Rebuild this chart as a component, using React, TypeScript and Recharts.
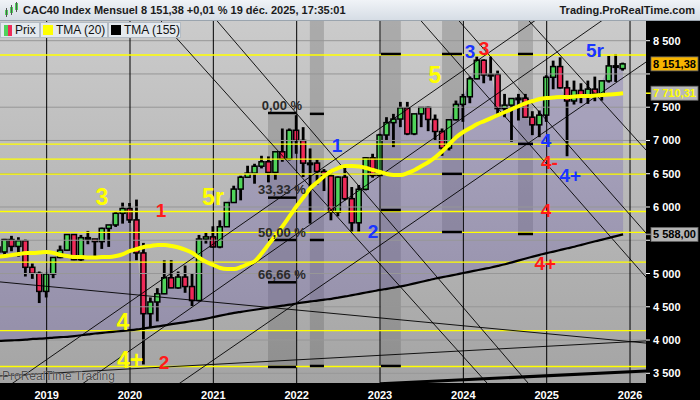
import React from 'react'
import {
  ComposedChart, Bar, Line, Area, XAxis, YAxis, CartesianGrid,
  ReferenceLine, ReferenceArea, ReferenceDot,
} from 'recharts'

// Mensuel CAC40, juin 2018 -> déc. 2025 (index 0 = janv. 2019)
const FIRST_MONTH = -7
const OPENS = [
  5398, 5324, 5511, 5407, 5493, 5093, 5003,
  4731, 4993, 5241, 5351, 5586, 5208, 5539, 5519, 5480, 5678, 5730, 5905,
  5978, 5806, 5309, 4396, 4572, 4695, 4936, 4784, 4947, 4804, 4594, 5518,
  5551, 5399, 5703, 6067, 6269, 6447, 6508, 6613, 6680, 6520, 6830, 6721,
  7153, 7000, 6659, 6660, 6534, 6469, 5923, 6449, 6125, 5762, 6266, 6739,
  6474, 7082, 7268, 7322, 7491, 7099, 7400, 7497, 7316, 7135, 6886, 7311,
  7543, 7657, 7927, 8206, 7985, 7993, 7479, 7531, 7631, 7636, 7350, 7235,
  7381, 7950, 8111, 7791, 7594, 7752, 7666, 7772, 7704, 7896, 8121, 8080,
]
const HIGHS = [
  5450, 5520, 5566, 5545, 5510, 5150, 5030,
  5010, 5241, 5420, 5592, 5590, 5580, 5640, 5520, 5690, 5730, 5940, 6065,
  6060, 6111, 5460, 4640, 4780, 5198, 5200, 5030, 5120, 5000, 5580, 5620,
  5710, 5800, 6070, 6320, 6470, 6620, 6650, 6770, 6760, 6830, 7180, 7180,
  7380, 7200, 6880, 6710, 6570, 6560, 6460, 6600, 6300, 6330, 6750, 6800,
  7100, 7350, 7400, 7580, 7580, 7400, 7500, 7510, 7390, 7180, 7310, 7600,
  7700, 7960, 8260, 8220, 8260, 8050, 7700, 7620, 7700, 7700, 7440, 7450,
  7980, 8200, 8250, 7900, 7900, 7860, 7900, 7960, 7900, 8270, 8300, 8170,
]
const LOWS = [
  5250, 5270, 5334, 5253, 4955, 4920, 4556,
  4640, 4930, 5230, 5340, 5200, 5190, 5440, 5230, 5370, 5400, 5700, 5750,
  5760, 5200, 3632, 4180, 4280, 4690, 4780, 4770, 4710, 4510, 4580, 5450,
  5390, 5380, 5700, 6060, 6100, 6440, 6350, 6580, 6370, 6410, 6680, 6700,
  6800, 6450, 5750, 6330, 6240, 5800, 5860, 6100, 5630, 5630, 6250, 6440,
  6470, 7000, 6900, 7200, 7080, 7080, 7200, 7140, 7000, 6770, 6850, 7300,
  7280, 7560, 7920, 7860, 7900, 7400, 7350, 6980, 7300, 7350, 7080, 7050,
  7280, 7770, 7780, 6763, 7540, 7560, 7550, 7590, 7600, 7870, 7880, 8050,
]
const CLOSES = [
  5324, 5511, 5407, 5493, 5093, 5003, 4731,
  4993, 5241, 5351, 5586, 5208, 5539, 5519, 5480, 5678, 5730, 5905, 5978,
  5806, 5309, 4396, 4572, 4695, 4936, 4784, 4947, 4804, 4594, 5518, 5551,
  5399, 5703, 6067, 6269, 6447, 6508, 6613, 6680, 6520, 6830, 6721, 7153,
  7000, 6659, 6660, 6534, 6469, 5923, 6449, 6125, 5762, 6266, 6739, 6474,
  7082, 7268, 7322, 7491, 7099, 7400, 7497, 7316, 7135, 6886, 7311, 7543,
  7657, 7927, 8206, 7985, 7993, 7479, 7531, 7631, 7636, 7350, 7235, 7381,
  7950, 8111, 7791, 7594, 7752, 7666, 7772, 7704, 7896, 8121, 8122, 8151,
]
const TMA20 = [
  5255, 5263, 5278, 5293, 5308, 5308, 5316,
  5324, 5308, 5278, 5263, 5248, 5248, 5240, 5240, 5248, 5248, 5263, 5293,
  5339, 5369, 5399, 5414, 5429, 5429, 5414, 5391, 5354, 5308, 5233, 5173,
  5128, 5083, 5068, 5068, 5098, 5143, 5188, 5308, 5444, 5579, 5715, 5865,
  6015, 6150, 6286, 6376, 6466, 6541, 6586, 6616, 6616, 6609, 6586, 6556,
  6526, 6496, 6481, 6481, 6511, 6556, 6616, 6677, 6752, 6842, 6947, 7052,
  7127, 7187, 7247, 7292, 7337, 7383, 7428, 7473, 7518, 7563, 7593, 7623,
  7638, 7646, 7654, 7654, 7661, 7669, 7669, 7676, 7684, 7691, 7699, 7710,
]
// TMA (155), courbe noire
const TMA155 = [
  3985, 3990, 3995, 4000, 4007, 4016, 4020,
  4028, 4037, 4044, 4048, 4060, 4072, 4085, 4098, 4108, 4118, 4128, 4138,
  4148, 4160, 4175, 4190, 4205, 4220, 4238, 4255, 4270, 4287, 4302, 4322,
  4345, 4367, 4388, 4408, 4424, 4440, 4455, 4471, 4486, 4501, 4516, 4531,
  4549, 4565, 4580, 4593, 4608, 4620, 4637, 4655, 4675, 4694, 4714, 4733,
  4753, 4770, 4788, 4806, 4828, 4852, 4876, 4900, 4925, 4945, 4965, 4985,
  5007, 5028, 5049, 5070, 5091, 5115, 5140, 5168, 5198, 5226, 5253, 5280,
  5307, 5330, 5355, 5380, 5403, 5430, 5458, 5485, 5510, 5535, 5562, 5588,
]

const Y_TICKS = [3500, 4000, 4500, 5000, 5500, 6000, 6500, 7000, 7500, 8000, 8500]
const YEAR_TICKS = [0, 12, 24, 36, 48, 60, 72, 84]
const SUPPORTS = [8285, 6945, 6720, 6494, 5932, 5617, 5170, 4142, 3602]

// Fibonacci 0 % -> 100 %
const FIB_TOP = 7413
const FIB_BOTTOM = 3595
const FIB_LEVELS = [0, 0.3333, 0.5, 0.6666, 1]
const FIB_TEXTS = ['0,00 %', '33,33 %', '50,00 %', '66,66 %']

// bandes grises : [mois début, mois fin, bas, haut]
const BANDS: [number, number, number, number | null][] = [
  [31.87, 35.9, 3595, 7413],
  [37.9, 39.93, 3610, null],
  [48.14, 51.0, 3610, null],
  [56.93, 59.8, 5624, null],
  [67.87, 70.03, 5594, null],
]
const BAND_MARKS: [number, number, number][] = [
  [37.9, 39.93, 7400], [37.9, 39.93, 5504], [37.9, 39.93, 3610],
  [48.14, 51.0, 8300], [48.14, 51.0, 5955], [48.14, 51.0, 3610],
  [56.93, 59.8, 8300], [56.93, 59.8, 6498], [56.93, 59.8, 5624],
  [67.87, 70.03, 8300], [67.87, 70.03, 6949], [67.87, 70.03, 5594],
]

// lignes de tendance : [mois1, cours1, mois2, cours2]
const TRENDS: [number, number, number, number][] = [
  [13.75, 9112, 65.6, 3099],
  [21.95, 9112, 71.41, 3099],
  [51.27, 9112, 88.3, 4707],
  [56.72, 9112, 88.32, 5369],
  [66.72, 9112, 88.32, 6624],
  [-8.17, 4888, 88.32, 3934],
  [-8.17, 3452, 88.32, 3998],
  [-8.17, 3114, 74.6, 9112],
  [1.92, 3106, 84.2, 9112],
  [16.32, 3147, 88.32, 8324],
]
const THICK_TREND: [number, number, number, number] = [48, 3342, 88.32, 3545]

// étiquettes d'Elliott [texte, mois, cours]
const YELLOW_WAVES: [string, number, number][] = [
  ['3', 7.97, 6150], ['5r', 23.95, 6150], ['4', 10.99, 4271], ['4+', 12.0, 3700], ['5', 55.92, 7984],
]
const RED_WAVES: [string, number, number][] = [
  ['1', 16.46, 5955], ['2', 16.89, 3670], ['3', 62.97, 8390], ['4-', 72.4, 6680], ['4', 71.9, 5955], ['4+', 71.8, 5158],
]
const BLUE_WAVES: [string, number, number][] = [
  ['1', 41.8, 6932], ['2', 46.99, 5639], ['3', 60.96, 8345], ['5r', 78.96, 8360], ['4', 71.9, 7010], ['4+', 75.4, 6470],
]

// étiquettes de cours sur l'axe
const TAG_VALUES = [5588.0, 7710.31, 8151.38]
const TAG_TEXTS = ['5 588,00', '7 710,31', '8 151,38']
const TAG_BG = ['#b4b4b4', '#b8b8b8', '#f7b500']
const TAG_FG = ['#000', '#ffff00', '#000']
const TAG_TICK = ['#888', '#ffff00', '#000']

const FONT = '"Liberation Sans", Arial, sans-serif'
const GREEN = '#4fd35a'
const RED = '#ee2a58'
const X_DOMAIN = [-6.72, 86.3]
const Y_DOMAIN = [3354, 8796]

const data = CLOSES.map((c, i) => ({
  m: FIRST_MONTH + i,
  open: OPENS[i], high: HIGHS[i], low: LOWS[i], close: c,
  tma20: TMA20[i], tma155: TMA155[i],
}))

function fmtThousands(n: number): string {
  return String(n).replace(/\B(?=(\d{3})+(?!\d))/g, ' ')
}

function Candle(props: any) {
  const { x, width, payload } = props
  let { y, height } = props
  if (!payload || y == null) return null
  if (height < 0) { y += height; height = -height }
  const { open, close, high, low } = payload
  const cx = x + width / 2
  const k = high > low ? height / (high - low) : 0
  const py = (v: number) => y + (high - v) * k
  const top = py(Math.max(open, close))
  const bot = py(Math.min(open, close))
  return (
    <g>
      <rect x={cx - 1.4} y={y} width={2.8} height={Math.max(height, 1)} fill="#000" />
      <rect x={cx - 2.5} y={top} width={5} height={Math.max(bot - top, 1.5)}
        fill={close >= open ? GREEN : RED} stroke="#000" strokeWidth={1.5} />
    </g>
  )
}

// graduations de droite ; les étiquettes de cours passent après, donc au-dessus
function AxisTick(props: any) {
  const { x, y, payload } = props
  const t = TAG_VALUES.indexOf(payload.value)
  if (t >= 0) {
    return (
      <g>
        <line x1={x} x2={x + 5} y1={y} y2={y} stroke={TAG_TICK[t]} strokeWidth={1.5} />
        <rect x={x + 5} y={y - 7} width={47} height={14} fill={TAG_BG[t]} stroke="#666" strokeWidth={0.8} />
        <text x={x + 28.5} y={y + 4} textAnchor="middle" fontSize={11} fontWeight="bold" fill={TAG_FG[t]}
          fontFamily={FONT}>{TAG_TEXTS[t]}</text>
      </g>
    )
  }
  // graduation masquée par une étiquette de cours
  const hidden = TAG_VALUES.some(v => Math.abs(v - payload.value) < 180)
  return (
    <g>
      <line x1={x} x2={x + 4} y1={y} y2={y} stroke="#fff" strokeWidth={1} />
      {!hidden && (
        <text x={x + 7} y={y + 4} fontSize={11} fontWeight="bold" fill="#fff" fontFamily={FONT}>
          {fmtThousands(payload.value)}
        </text>
      )}
    </g>
  )
}

function LegendBox({ left, width, children }: { left: number; width: number; children: React.ReactNode }) {
  return (
    <div style={{
      position: 'absolute', left, top: 22, width, height: 16, boxSizing: 'border-box', whiteSpace: 'nowrap',
      background: '#e4e9ee', border: '1px solid #b4bcc4', display: 'flex', alignItems: 'center',
      gap: 3, paddingLeft: 2, fontSize: 12, color: '#111', fontFamily: FONT, overflow: 'hidden',
    }}>{children}</div>
  )
}

export default function App() {
  const waveLabel = (t: string, fill: string, size: number) => ({
    value: t, position: 'center' as const, fill, fontSize: size, fontWeight: 'bold', fontFamily: FONT,
  })
  return (
    <div style={{ position: 'fixed', left: 0, top: 0, width: 700, height: 400, background: '#000', overflow: 'hidden' }}>
      <ComposedChart width={700} height={400} data={data} margin={{ top: 21, right: 0, bottom: 0, left: 0 }}>
        <defs>
          <linearGradient id="bgGrad" x1="0" y1="0" x2="0" y2="1">
            <stop offset="0%" stopColor="#cbcbcb" />
            <stop offset="100%" stopColor="#a4a4a4" />
          </linearGradient>
        </defs>
        <CartesianGrid vertical={false} horizontal={false} fill="url(#bgGrad)" fillOpacity={1} />
        <XAxis dataKey="m" type="number" domain={X_DOMAIN} allowDataOverflow ticks={YEAR_TICKS}
          tickFormatter={(m: number) => String(2019 + m / 12)} height={17} axisLine={false} tickLine={false}
          tick={{ fill: '#fff', fontSize: 11, fontWeight: 'bold', fontFamily: FONT }} tickMargin={2} />
        <YAxis orientation="right" type="number" domain={Y_DOMAIN} allowDataOverflow
          ticks={[...Y_TICKS, ...TAG_VALUES]} interval={0} width={54}
          axisLine={false} tickLine={false} tickSize={0} tickMargin={0} tick={<AxisTick />} />

        {Y_TICKS.map(p => (
          <ReferenceLine key={`g${p}`} y={p} stroke="#979797" strokeWidth={1} />
        ))}
        {BANDS.map(([a, b, lo, hi], i) => (
          <ReferenceArea key={`band${i}`} x1={a} x2={b} y1={lo} y2={hi ?? Y_DOMAIN[1]} fill="#5a5a5a" fillOpacity={0.28}
            stroke="none" ifOverflow="hidden" />
        ))}

        <Area dataKey={(d: any) => [d.tma155, d.close]} type="linear" stroke="none" fill="#6a58b0" fillOpacity={0.3}
          isAnimationActive={false} />

        {YEAR_TICKS.map(m => (
          <ReferenceLine key={`yr${m}`} x={m} stroke="#000" strokeWidth={1} />
        ))}
        {SUPPORTS.map(p => (
          <ReferenceLine key={`s${p}`} y={p} stroke="#ffff00" strokeWidth={1.3} />
        ))}
        {TRENDS.map(([m1, p1, m2, p2], i) => (
          <ReferenceLine key={`t${i}`} segment={[{ x: m1, y: p1 }, { x: m2, y: p2 }]} stroke="#000" strokeWidth={0.9}
            ifOverflow="hidden" />
        ))}
        <ReferenceLine segment={[{ x: THICK_TREND[0], y: THICK_TREND[1] }, { x: THICK_TREND[2], y: THICK_TREND[3] }]}
          stroke="#000" strokeWidth={3} ifOverflow="hidden" />

        {FIB_LEVELS.map(f => {
          const p = FIB_TOP - f * (FIB_TOP - FIB_BOTTOM)
          return <ReferenceLine key={`fib${f}`} segment={[{ x: 31.87, y: p }, { x: 35.9, y: p }]} stroke="#000" strokeWidth={2.5} />
        })}
        {BAND_MARKS.map(([a, b, p], i) => (
          <ReferenceLine key={`bm${i}`} segment={[{ x: a, y: p }, { x: b, y: p }]} stroke="#000" strokeWidth={2.5} />
        ))}

        <Line dataKey="tma155" stroke="#000" strokeWidth={2.2} dot={false} type="monotone" isAnimationActive={false} />
        <Bar dataKey={(d: any) => [d.low, d.high]} barSize={6} shape={<Candle />} isAnimationActive={false} />
        <Line dataKey="tma20" stroke="#ffff00" strokeWidth={4} dot={false} type="monotone" isAnimationActive={false} />

        {FIB_TEXTS.map((t, i) => {
          const p = FIB_TOP - FIB_LEVELS[i] * (FIB_TOP - FIB_BOTTOM)
          return (
            <ReferenceDot key={`ft${i}`} x={33.88} y={p + 118} r={0} fill="none" stroke="none"
              label={{ value: t, position: 'center', fill: '#2a2a2a', fontSize: 13, fontWeight: 'bold', fontFamily: FONT }} />
          )
        })}
        {YELLOW_WAVES.map(([t, m, p], i) => (
          <ReferenceDot key={`yw${i}`} x={m} y={p} r={0} fill="none" stroke="none" label={waveLabel(t, '#ffff00', 23)} />
        ))}
        {RED_WAVES.map(([t, m, p], i) => (
          <ReferenceDot key={`rw${i}`} x={m} y={p} r={0} fill="none" stroke="none" label={waveLabel(t, '#ff1a1a', 19)} />
        ))}
        {BLUE_WAVES.map(([t, m, p], i) => (
          <ReferenceDot key={`bw${i}`} x={m} y={p} r={0} fill="none" stroke="none" label={waveLabel(t, '#1a35ff', 19)} />
        ))}
      </ComposedChart>

      <div style={{
        position: 'absolute', left: 0, top: 0, width: 700, height: 21, boxSizing: 'border-box',
        background: 'linear-gradient(#f0f3f7, #d6dde5)', borderBottom: '1px solid #9aa4ae',
        fontFamily: FONT, fontSize: 11, fontWeight: 'bold', color: '#1b1b1b',
      }}>
        <svg width={16} height={16} style={{ position: 'absolute', left: 4, top: 2 }}>
          <rect x={1} y={8} width={3} height={5} fill={GREEN} />
          <rect x={6} y={5} width={3} height={6} fill={GREEN} />
          <rect x={11} y={1} width={3} height={7} fill={GREEN} />
          <line x1={2.5} x2={2.5} y1={6} y2={15} stroke="#555" />
          <line x1={7.5} x2={7.5} y1={3} y2={13} stroke="#555" />
          <line x1={12.5} x2={12.5} y1={0} y2={10} stroke="#555" />
        </svg>
        <span style={{ position: 'absolute', left: 23, top: 4 }}>CAC40 Index Mensuel 8 151,38 +0,01 % 19 déc. 2025, 17:35:01</span>
        <span style={{ position: 'absolute', right: 5, top: 4 }}>Trading.ProRealTime.com</span>
      </div>

      <LegendBox left={0} width={40}>
        <span style={{ display: 'inline-block', width: 4, height: 11, background: GREEN, marginLeft: 1 }} />
        <span style={{ display: 'inline-block', width: 4, height: 11, background: RED, marginLeft: -3 }} />
        <span>Prix</span>
      </LegendBox>
      <LegendBox left={40} width={68}>
        <span style={{ display: 'inline-block', width: 10, height: 10, background: '#ffff00' }} />
        <span>TMA (20)</span>
      </LegendBox>
      <LegendBox left={108} width={73}>
        <span style={{ display: 'inline-block', width: 10, height: 10, background: '#000' }} />
        <span>TMA (155)</span>
      </LegendBox>

      <div style={{
        position: 'absolute', left: 2, top: 369, fontFamily: FONT, fontSize: 12, color: '#4c4c4c',
        textShadow: '0 0 1px #e6e6e6',
      }}>ProRealTime Trading</div>
    </div>
  )
}
